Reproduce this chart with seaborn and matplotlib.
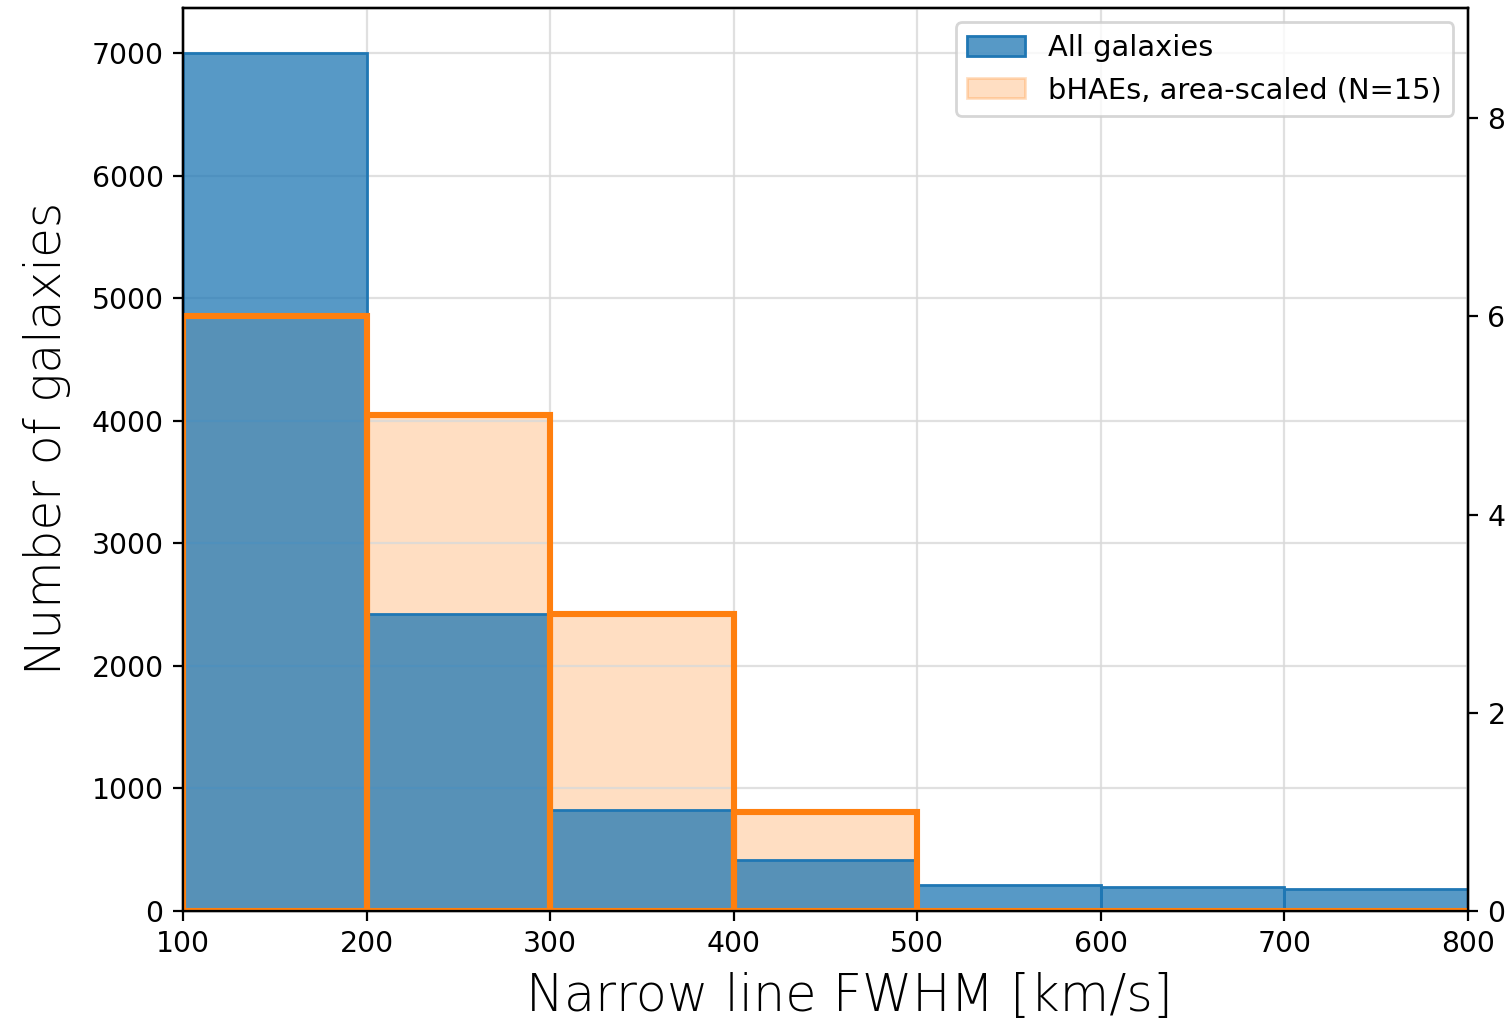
import numpy as np
import pandas as pd
import matplotlib
matplotlib.use("Agg")
import matplotlib.pyplot as plt
import seaborn as sns

# ---- data ----
bin_edges = [100, 200, 300, 400, 500, 600, 700, 800]
all_counts = [7000, 2420, 822, 416, 212, 193, 177]
bhae_counts = [6, 5, 3, 1, 0, 0, 0]
xticks = [100, 200, 300, 400, 500, 600, 700, 800]
left_yticks = [0, 1000, 2000, 3000, 4000, 5000, 6000, 7000]
right_yticks = [0, 2, 4, 6, 8]
label_all = "All galaxies"
label_bhae = "bHAEs, area-scaled (N=15)"
xlabel = "Narrow line FWHM [km/s]"
ylabel = "Number of galaxies"

centers = [(a + b) / 2 for a, b in zip(bin_edges[:-1], bin_edges[1:])]
df_all = pd.DataFrame({"fwhm": centers, "n": all_counts})
df_b = pd.DataFrame({"fwhm": centers, "n": bhae_counts})

plt.rcdefaults()
plt.rcParams["font.family"] = ["DejaVu Sans"]
plt.rcParams["font.sans-serif"] = ["DejaVu Sans"]
label_font = ["DejaVu Sans"]

C0 = "#1f77b4"
C1 = "#ff7f0e"
C1_faint = (1.0, 0.498, 0.055, 0.25)

fig = plt.figure(figsize=(1511 / 200, 1028 / 200), dpi=200)
ax = fig.add_axes([0.1211, 0.1138, 0.8504, 0.8784])
ax2 = ax.twinx()
ax3 = ax.twinx()

# orange fill (lowest layer)
sns.histplot(data=df_b, x="fwhm", weights="n", bins=bin_edges, ax=ax2,
             color=C1, alpha=0.25, edgecolor=C1_faint, linewidth=1.0,
             element="bars", label=label_bhae)

# blue histogram on top of the orange fill
ax.set_zorder(ax2.get_zorder() + 1)
ax.patch.set_visible(False)
ax3.set_zorder(ax.get_zorder() + 1)
ax3.patch.set_visible(False)
sns.histplot(data=df_all, x="fwhm", weights="n", bins=bin_edges, ax=ax,
             color=C0, alpha=0.75, edgecolor=C0, linewidth=1.0,
             element="bars", label=label_all)

# orange outline on top
sns.histplot(data=df_b, x="fwhm", weights="n", bins=bin_edges, ax=ax3,
             fill=False, color=C1, edgecolor=C1, linewidth=2.2, element="bars")

ax.set_xlim(100, 800)
ax.set_xticks(xticks)
ax.set_ylim(0, 7367)
ax.set_yticks(left_yticks)
for a in (ax2, ax3):
    a.set_ylim(0, 9.11)
ax2.set_yticks(right_yticks)
ax3.set_yticks([])
ax3.set_ylabel("")
ax2.set_ylabel("")

ax.grid(True, color="#d9d9d9", linewidth=0.8, alpha=0.8)
ax.set_axisbelow(True)

for a in (ax, ax2, ax3):
    for s in a.spines.values():
        s.set_color("black")
        s.set_linewidth(0.8)
ax.tick_params(axis="both", which="major", direction="out", length=3.5,
               width=0.8, labelsize=10.2, color="black", left=True, bottom=True)
ax2.tick_params(axis="y", direction="out", length=3.5, width=0.8,
                labelsize=10.2, color="black", right=True)

ax.set_xlabel(xlabel, fontsize=18.3, family=label_font, weight="light", labelpad=5)
ax.set_ylabel(ylabel, fontsize=17.5, family=label_font, weight="light", labelpad=7.5)
ax.xaxis.label.set_x(0.5187)
ax.yaxis.label.set_y(0.523)

h1, l1 = ax.get_legend_handles_labels()
h2, l2 = ax2.get_legend_handles_labels()
leg = ax3.legend(h1 + h2, l1 + l2, loc="upper right", fontsize=10.4,
                 frameon=True, fancybox=True, framealpha=0.8,
                 edgecolor="#cccccc", borderaxespad=0.5)

fig.savefig("out.png", dpi=200)
